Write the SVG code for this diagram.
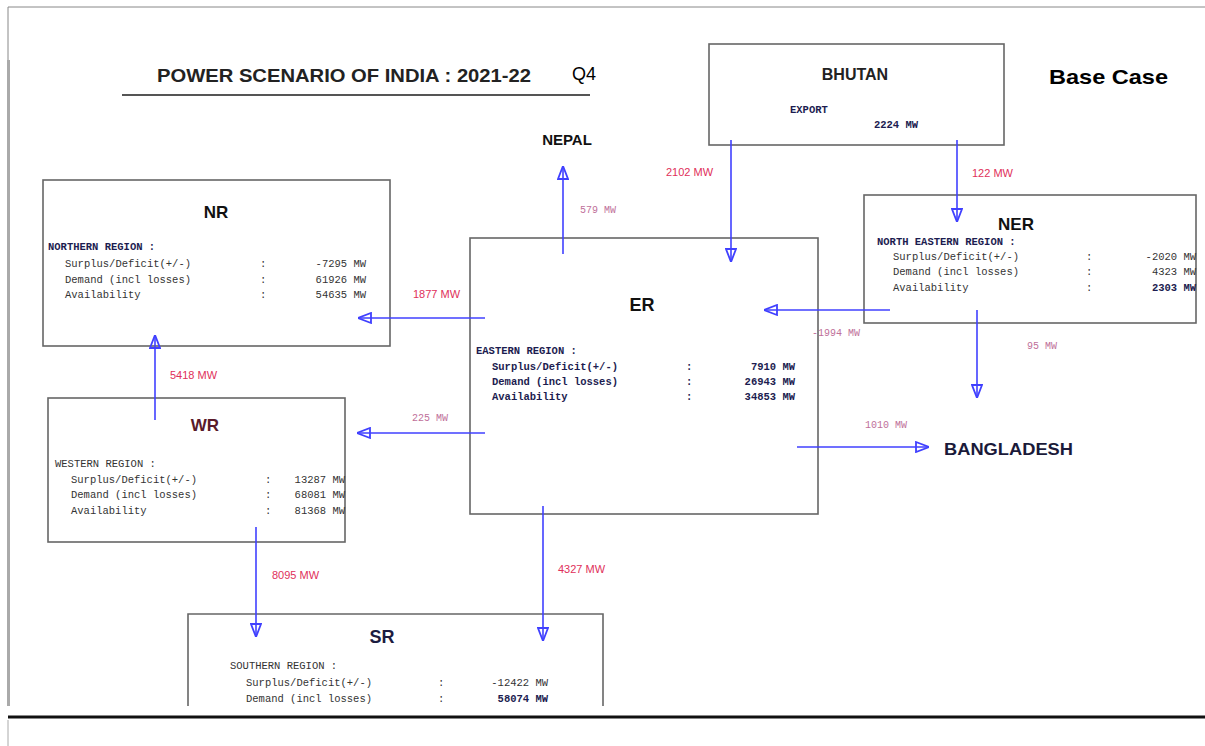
<svg xmlns="http://www.w3.org/2000/svg" width="1205" height="746" viewBox="0 0 1205 746">
<defs>
<style>
.box{fill:#fff;stroke:#666;stroke-width:1.6}
.hd{font-family:"Liberation Sans",Arial,sans-serif;font-weight:bold;text-anchor:middle}
.mono{font-family:"Liberation Mono","DejaVu Sans Mono",monospace;font-size:10.5px;fill:#333}
.monob{font-family:"Liberation Mono","DejaVu Sans Mono",monospace;font-size:10.5px;font-weight:bold;fill:#1c1c50}
.end{text-anchor:end}
.lbl{font-family:"Liberation Sans",Arial,sans-serif;font-size:11px;fill:#e0305a}
.pale{font-family:"Liberation Mono",monospace;font-size:10px;fill:#c0709a}
.cn line{stroke:#4040ff;stroke-width:1.6;marker-end:url(#ah)}
</style>
<marker id="ah" viewBox="0 0 14 12" refX="14" refY="6" markerWidth="14" markerHeight="12" markerUnits="userSpaceOnUse" orient="auto">
<path d="M1,1 L14,6 L1,11 Z" fill="none" stroke="#4040ff" stroke-width="1.8"/>
</marker>
</defs>
<rect width="1205" height="746" fill="#fff"/>
<!-- frame -->
<g id="frame">
<line x1="8" y1="7" x2="1205" y2="7" stroke="#888" stroke-width="1"/>
<line x1="8" y1="7" x2="8" y2="60" stroke="#888" stroke-width="1"/>
<line x1="8.5" y1="60" x2="8.5" y2="706" stroke="#aaa" stroke-width="3"/>
<line x1="8" y1="717" x2="1205" y2="717" stroke="#111" stroke-width="3"/>
<line x1="8" y1="720" x2="8" y2="746" stroke="#aaa" stroke-width="1"/>
</g>
<g id="title">
<text x="157" y="82" font-family="Liberation Sans,Arial,sans-serif" font-weight="bold" font-size="19" fill="#222" textLength="374" lengthAdjust="spacingAndGlyphs">POWER SCENARIO OF INDIA : 2021-22</text>
<text x="572" y="80" font-family="Liberation Sans,Arial,sans-serif" font-size="18" fill="#000">Q4</text>
<line x1="122" y1="95" x2="590" y2="95" stroke="#555" stroke-width="2"/>
<text x="1049" y="84" font-family="Liberation Sans,Arial,sans-serif" font-weight="bold" font-size="21" fill="#000" textLength="119" lengthAdjust="spacingAndGlyphs">Base Case</text>
</g>
<g id="bhutan">
<rect class="box" x="709" y="44" width="295" height="101"/>
<text class="hd" x="855" y="80" font-size="16" fill="#222">BHUTAN</text>
<text class="monob" x="790" y="113" font-size="9.5" fill="#333">EXPORT</text>
<text class="monob" x="918" y="128" text-anchor="end" font-size="9.5" fill="#333">2224 MW</text>
</g>
<g id="nepal">
<text class="hd" x="567" y="145" font-size="15" fill="#111">NEPAL</text>
</g>
<g id="bangladesh">
<text x="944" y="455" font-family="Liberation Sans,Arial,sans-serif" font-weight="bold" font-size="17" fill="#1a1a3a" textLength="129" lengthAdjust="spacingAndGlyphs">BANGLADESH</text>
</g>
<g id="nr">
<rect class="box" x="43" y="180" width="347" height="166"/>
<text class="hd" x="216" y="218" font-size="17" fill="#111">NR</text>
<text class="monob" x="48" y="250" fill="#2a2a70">NORTHERN REGION :</text>
<text class="mono" x="65" y="267">Surplus/Deficit(+/-)</text>
<text class="mono" x="65" y="283">Demand (incl losses)</text>
<text class="mono" x="65" y="298">Availability</text>
<text class="mono" x="260" y="267">:</text>
<text class="mono" x="260" y="283">:</text>
<text class="mono" x="260" y="298">:</text>
<text class="mono end" x="366" y="267">-7295 MW</text>
<text class="mono end" x="366" y="283">61926 MW</text>
<text class="mono end" x="366" y="298">54635 MW</text>
</g>
<g id="wr">
<rect class="box" x="48" y="398" width="297" height="144"/>
<text class="hd" x="205" y="431" font-size="17" fill="#5a1a2a">WR</text>
<text class="mono" x="55" y="467">WESTERN REGION :</text>
<text class="mono" x="71" y="483">Surplus/Deficit(+/-)</text>
<text class="mono" x="71" y="498">Demand (incl losses)</text>
<text class="mono" x="71" y="514">Availability</text>
<text class="mono" x="265" y="483">:</text>
<text class="mono" x="265" y="498">:</text>
<text class="mono" x="265" y="514">:</text>
<text class="mono end" x="345" y="483">13287 MW</text>
<text class="mono end" x="345" y="498">68081 MW</text>
<text class="mono end" x="345" y="514">81368 MW</text>
</g>
<g id="er">
<rect class="box" x="470" y="238" width="348" height="276"/>
<text class="hd" x="642" y="311" font-size="18" fill="#111">ER</text>
<text class="monob" x="476" y="354" fill="#222">EASTERN REGION :</text>
<text class="monob" x="492" y="370">Surplus/Deficit(+/-)</text>
<text class="monob" x="492" y="385">Demand (incl losses)</text>
<text class="monob" x="492" y="400">Availability</text>
<text class="monob" x="686" y="370">:</text>
<text class="monob" x="686" y="385">:</text>
<text class="monob" x="686" y="400">:</text>
<text class="monob end" x="795" y="370">7910 MW</text>
<text class="monob end" x="795" y="385">26943 MW</text>
<text class="monob end" x="795" y="400">34853 MW</text>
</g>
<g id="ner">
<rect class="box" x="864" y="195" width="332" height="128"/>
<text class="hd" x="1016" y="230" font-size="17" fill="#111">NER</text>
<text class="monob" x="877" y="245" fill="#2a2a70">NORTH EASTERN REGION :</text>
<text class="mono" x="893" y="260">Surplus/Deficit(+/-)</text>
<text class="mono" x="893" y="275">Demand (incl losses)</text>
<text class="mono" x="893" y="291">Availability</text>
<text class="mono" x="1086" y="260">:</text>
<text class="mono" x="1086" y="275">:</text>
<text class="mono" x="1086" y="291">:</text>
<text class="mono end" x="1196" y="260">-2020 MW</text>
<text class="mono end" x="1196" y="275">4323 MW</text>
<text class="monob end" x="1196" y="291" fill="#333">2303 MW</text>
</g>
<g id="sr">
<path d="M188,706 V614 H603 V706" fill="#fff" stroke="#666" stroke-width="1.6"/>
<text class="hd" x="382" y="643" font-size="18" fill="#1c1c40">SR</text>
<text class="mono" x="230" y="669">SOUTHERN REGION :</text>
<text class="mono" x="246" y="686">Surplus/Deficit(+/-)</text>
<text class="mono" x="246" y="702">Demand (incl losses)</text>
<text class="mono" x="438" y="686">:</text>
<text class="mono" x="438" y="702">:</text>
<text class="mono end" x="548" y="686">-12422 MW</text>
<text class="monob end" x="548" y="702" fill="#333">58074 MW</text>
</g>
<g id="connectors" class="cn">
<line x1="731" y1="140" x2="731" y2="262"/>
<line x1="957" y1="140" x2="957" y2="222"/>
<line x1="563" y1="254" x2="563" y2="166"/>
<line x1="485" y1="318" x2="358" y2="318"/>
<line x1="155" y1="420" x2="155" y2="335"/>
<line x1="485" y1="433" x2="357" y2="433"/>
<line x1="890" y1="310" x2="764" y2="310"/>
<line x1="977" y1="310" x2="977" y2="398"/>
<line x1="797" y1="447" x2="929" y2="447"/>
<line x1="256" y1="527" x2="256" y2="637"/>
<line x1="543" y1="506" x2="543" y2="641"/>
</g>
<g id="labels">
<text class="lbl" x="666" y="176">2102 MW</text>
<text class="lbl" x="972" y="177">122 MW</text>
<text class="pale" x="580" y="213">579 MW</text>
<text class="lbl" x="413" y="298">1877 MW</text>
<text class="lbl" x="170" y="379">5418 MW</text>
<text class="pale" x="412" y="421">225 MW</text>
<text class="pale" x="812" y="336">-1994 MW</text>
<text class="pale" x="1027" y="349">95 MW</text>
<text class="pale" x="865" y="428">1010 MW</text>
<text class="lbl" x="272" y="579">8095 MW</text>
<text class="lbl" x="558" y="573">4327 MW</text>
</g>
</svg>
